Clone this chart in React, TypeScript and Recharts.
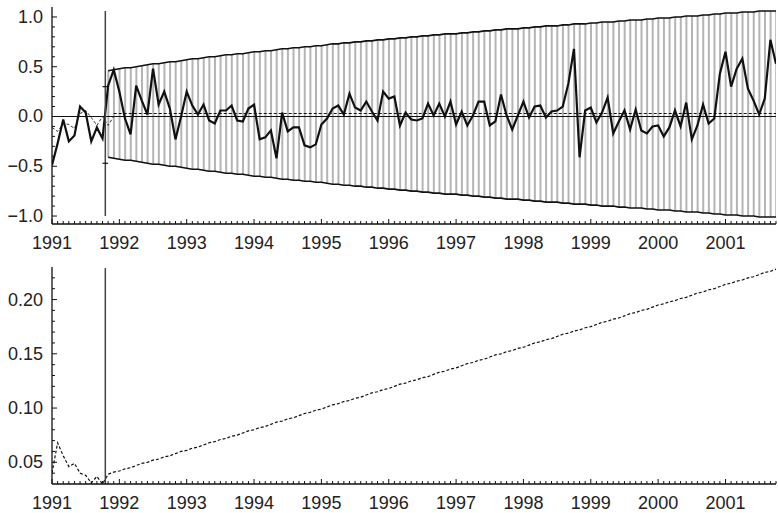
import React from 'react'
import { ComposedChart, Line, Bar, XAxis, YAxis, ReferenceLine } from 'recharts'

const START_YEAR = 1991
const FORECAST_START = 10 // first forecast month index (Nov 1991)
const FORECAST_MEAN = 0.03
const YEAR_TICKS = [1991, 1992, 1993, 1994, 1995, 1996, 1997, 1998, 1999, 2000, 2001]

// monthly observed series, Jan 1991 .. Oct 2001
const observed = [
  -0.49, -0.27, -0.03, -0.25, -0.19, 0.1, 0.04, -0.25, -0.11, -0.22,
  0.31, 0.47, 0.25, -0.02, -0.18, 0.31, 0.16, 0.02, 0.48, 0.12,
  0.25, 0.08, -0.23, 0.0, 0.25, 0.11, 0.02, 0.12, -0.04, -0.07,
  0.06, 0.06, 0.11, -0.04, -0.05, 0.08, 0.12, -0.23, -0.21, -0.14,
  -0.42, 0.04, -0.15, -0.11, -0.11, -0.29, -0.31, -0.28, -0.08, -0.02,
  0.08, 0.11, 0.02, 0.23, 0.09, 0.06, 0.15, 0.05, -0.04, 0.25,
  0.18, 0.2, -0.09, 0.04, -0.03, -0.04, -0.02, 0.13, 0.01, 0.13,
  0.0, 0.15, -0.08, 0.05, -0.09, 0.01, 0.15, 0.15, -0.09, -0.05,
  0.22, 0.01, -0.13, 0.01, 0.15, -0.01, 0.1, 0.11, -0.01, 0.05,
  0.06, 0.1, 0.33, 0.68, -0.41, 0.06, 0.09, -0.06, 0.04, 0.19,
  -0.17, -0.05, 0.06, -0.13, 0.07, -0.14, -0.17, -0.1, -0.09, -0.2,
  -0.11, 0.06, -0.1, 0.14, -0.23, -0.09, 0.12, -0.07, -0.02, 0.43,
  0.65, 0.3, 0.48, 0.58, 0.28, 0.16, 0.02, 0.18, 0.77, 0.53,
]

// in-sample fitted values (dashed)
const fitted = [-0.11, -0.15, -0.07, -0.08, -0.12, 0.03, 0.06, -0.01, -0.09, 0.0, -0.09, 0.0]

// forecast band, from Nov 1991
const bandUpper = [
  0.46, 0.47, 0.48, 0.49, 0.49, 0.5, 0.51, 0.52, 0.53, 0.53,
  0.54, 0.55, 0.55, 0.56, 0.57, 0.58, 0.58, 0.59, 0.6, 0.6,
  0.61, 0.62, 0.62, 0.63, 0.63, 0.64, 0.65, 0.65, 0.66, 0.66,
  0.67, 0.68, 0.68, 0.69, 0.69, 0.7, 0.7, 0.71, 0.71, 0.72,
  0.73, 0.73, 0.74, 0.74, 0.75, 0.75, 0.76, 0.76, 0.77, 0.77,
  0.78, 0.78, 0.79, 0.79, 0.8, 0.8, 0.81, 0.81, 0.82, 0.82,
  0.83, 0.83, 0.83, 0.84, 0.84, 0.85, 0.85, 0.86, 0.86, 0.87,
  0.87, 0.88, 0.88, 0.88, 0.89, 0.89, 0.9, 0.9, 0.91, 0.91,
  0.91, 0.92, 0.92, 0.93, 0.93, 0.93, 0.94, 0.94, 0.95, 0.95,
  0.95, 0.96, 0.96, 0.97, 0.97, 0.97, 0.98, 0.98, 0.99, 0.99,
  0.99, 1.0, 1.0, 1.01, 1.01, 1.01, 1.02, 1.02, 1.03, 1.03,
  1.04, 1.04, 1.04, 1.05, 1.05, 1.05, 1.06, 1.06, 1.06, 1.06,
]
const bandLower = [
  -0.41, -0.42, -0.43, -0.44, -0.44, -0.45, -0.46, -0.47, -0.48, -0.48,
  -0.49, -0.5, -0.5, -0.51, -0.52, -0.53, -0.53, -0.54, -0.55, -0.55,
  -0.56, -0.57, -0.57, -0.58, -0.58, -0.59, -0.6, -0.6, -0.61, -0.61,
  -0.62, -0.63, -0.63, -0.64, -0.64, -0.65, -0.65, -0.66, -0.66, -0.67,
  -0.68, -0.68, -0.69, -0.69, -0.7, -0.7, -0.71, -0.71, -0.72, -0.72,
  -0.73, -0.73, -0.74, -0.74, -0.75, -0.75, -0.76, -0.76, -0.77, -0.77,
  -0.78, -0.78, -0.78, -0.79, -0.79, -0.8, -0.8, -0.81, -0.81, -0.82,
  -0.82, -0.83, -0.83, -0.83, -0.84, -0.84, -0.85, -0.85, -0.86, -0.86,
  -0.86, -0.87, -0.87, -0.88, -0.88, -0.88, -0.89, -0.89, -0.9, -0.9,
  -0.9, -0.91, -0.91, -0.92, -0.92, -0.92, -0.93, -0.93, -0.94, -0.94,
  -0.94, -0.95, -0.95, -0.96, -0.96, -0.96, -0.97, -0.97, -0.98, -0.98,
  -0.99, -0.99, -0.99, -1.0, -1.0, -1.0, -1.01, -1.01, -1.01, -1.01,
]

// lower panel series (dashed)
const spread = [
  0.04, 0.068, 0.056, 0.046, 0.049, 0.04, 0.038, 0.031, 0.037, 0.03,
  0.039, 0.041, 0.042, 0.044, 0.045, 0.047, 0.049, 0.05, 0.052, 0.053,
  0.055, 0.056, 0.058, 0.06, 0.061, 0.063, 0.064, 0.066, 0.068, 0.069,
  0.071, 0.072, 0.074, 0.075, 0.077, 0.079, 0.08, 0.082, 0.083, 0.085,
  0.087, 0.088, 0.09, 0.091, 0.093, 0.095, 0.096, 0.098, 0.099, 0.101,
  0.103, 0.104, 0.106, 0.107, 0.109, 0.11, 0.112, 0.114, 0.115, 0.117,
  0.118, 0.12, 0.122, 0.123, 0.125, 0.126, 0.128, 0.129, 0.131, 0.133,
  0.134, 0.136, 0.137, 0.139, 0.141, 0.142, 0.144, 0.145, 0.147, 0.149,
  0.15, 0.152, 0.153, 0.155, 0.156, 0.158, 0.16, 0.161, 0.163, 0.164,
  0.166, 0.168, 0.169, 0.171, 0.172, 0.174, 0.175, 0.177, 0.179, 0.18,
  0.182, 0.183, 0.185, 0.187, 0.188, 0.19, 0.191, 0.193, 0.195, 0.196,
  0.198, 0.199, 0.201, 0.202, 0.204, 0.206, 0.207, 0.209, 0.21, 0.212,
  0.214, 0.215, 0.217, 0.218, 0.22, 0.221, 0.223, 0.225, 0.226, 0.228,
]

const TOP_Y_TICKS = [-1, -0.9, -0.8, -0.7, -0.6, -0.5, -0.4, -0.3, -0.2, -0.1, 0, 0.1, 0.2, 0.3, 0.4, 0.5, 0.6, 0.7, 0.8, 0.9, 1]
const TOP_Y_LABELS = [-1, -0.5, 0, 0.5, 1]
const BOTTOM_Y_TICKS = [0.04, 0.05, 0.06, 0.07, 0.08, 0.09, 0.1, 0.11, 0.12, 0.13, 0.14, 0.15, 0.16, 0.17, 0.18, 0.19, 0.2, 0.21, 0.22]
const BOTTOM_Y_LABELS = [0.05, 0.1, 0.15, 0.2]

const CAP_HIGH = 0.3
const CAP_LOW = -0.47

const FONT = '"Liberation Sans", Arial, Helvetica, sans-serif'
const INK = '#111'

const monthX = (i: number) => START_YEAR + i / 12
const ORIGIN = monthX(FORECAST_START - 0.5)
const END_X = monthX(observed.length - 1)
const monthTicks = observed.map((_, i) => monthX(i))

const topData = observed.map((v, i) => {
  const k = i - FORECAST_START
  return {
    x: monthX(i),
    observed: v,
    fitted: i < fitted.length ? fitted[i] : undefined,
    upper: k >= 0 ? bandUpper[k] : undefined,
    lower: k >= 0 ? bandLower[k] : undefined,
    band: k >= 0 ? [bandLower[k], bandUpper[k]] : undefined,
  }
})

const bottomData = spread.map((v, i) => ({ x: monthX(i), spread: v }))

const XTick = (props: any) => {
  const { x, y, payload } = props
  const v = payload.value
  const yr = Math.round(v)
  const major = Math.abs(v - yr) < 1e-6 && YEAR_TICKS.includes(yr)
  return (
    <g>
      <line x1={x} x2={x} y1={y} y2={y - (major ? 5 : 3)} stroke={INK} strokeWidth={1} />
      {major && (
        <text x={x} y={y + 19} textAnchor="middle" dominantBaseline="central"
          fontSize={18} fontFamily={FONT} fill="#222">
          {yr}
        </text>
      )}
    </g>
  )
}

const makeYTick = (labels: number[], digits: number) => (props: any) => {
  const { x, y, payload } = props
  const v = payload.value
  const major = labels.some((l) => Math.abs(l - v) < 1e-9)
  return (
    <g>
      <line x1={x} x2={x + (major ? 5 : 3)} y1={y} y2={y} stroke={INK} strokeWidth={1} />
      {major && (
        <text x={x - 9} y={y} textAnchor="end" dominantBaseline="central"
          fontSize={18} fontFamily={FONT} fill="#222">
          {v.toFixed(digits).replace('-', '\u2212')}
        </text>
      )}
    </g>
  )
}

const TopYTick = makeYTick(TOP_Y_LABELS, 1)
const BottomYTick = makeYTick(BOTTOM_Y_LABELS, 2)

const axisLine = { stroke: INK, strokeWidth: 1.3 }

export default function App() {
  return (
    <div style={{ position: 'absolute', left: 0, top: 0, width: 778, height: 513, background: '#fff' }}>
      <div style={{ position: 'absolute', left: 0, top: 0 }}>
        <ComposedChart width={778} height={260} data={topData} margin={{ top: 7, right: 2, bottom: 0, left: 0 }}>
          <XAxis dataKey="x" type="number" domain={[START_YEAR, END_X]} ticks={monthTicks} interval={0}
            allowDataOverflow height={36} tickSize={0} tickMargin={0} tickLine={false}
            axisLine={axisLine} tick={XTick} />
          <YAxis type="number" domain={[-1.08, 1.1]} ticks={TOP_Y_TICKS} interval={0} allowDataOverflow
            width={52} tickSize={0} tickMargin={0} tickLine={false} axisLine={axisLine} tick={TopYTick} />
          <Bar dataKey="band" barSize={2} fill="#b4b4b4" isAnimationActive={false} />
          <ReferenceLine y={0} stroke={INK} strokeWidth={1.2} />
          <ReferenceLine
            segment={[{ x: monthX(11), y: FORECAST_MEAN }, { x: END_X, y: FORECAST_MEAN }]}
            stroke={INK} strokeWidth={1} strokeDasharray="3 2" />
          <Line dataKey="upper" stroke={INK} strokeWidth={1.6} dot={false} isAnimationActive={false} />
          <Line dataKey="lower" stroke={INK} strokeWidth={1.6} dot={false} isAnimationActive={false} />
          <Line dataKey="fitted" stroke="#333" strokeWidth={1} strokeDasharray="3 2" dot={false}
            isAnimationActive={false} />
          <Line dataKey="observed" stroke={INK} strokeWidth={2.2} dot={false} isAnimationActive={false} />
          <ReferenceLine segment={[{ x: ORIGIN, y: 1.06 }, { x: ORIGIN, y: -1.0 }]} stroke="#444" strokeWidth={1.5} />
          <ReferenceLine segment={[{ x: monthX(9), y: CAP_HIGH }, { x: monthX(10), y: CAP_HIGH }]} stroke={INK} strokeWidth={1.2} />
          <ReferenceLine segment={[{ x: monthX(9), y: CAP_LOW }, { x: monthX(10), y: CAP_LOW }]} stroke={INK} strokeWidth={1.2} />
        </ComposedChart>
      </div>
      <div style={{ position: 'absolute', left: 0, top: 260 }}>
        <ComposedChart width={778} height={253} data={bottomData} margin={{ top: 7, right: 2, bottom: 0, left: 0 }}>
          <XAxis dataKey="x" type="number" domain={[START_YEAR, END_X]} ticks={monthTicks} interval={0}
            allowDataOverflow height={29} tickSize={0} tickMargin={0} tickLine={false}
            axisLine={axisLine} tick={XTick} />
          <YAxis type="number" domain={[0.03, 0.23]} ticks={BOTTOM_Y_TICKS} interval={0} allowDataOverflow
            width={52} tickSize={0} tickMargin={0} tickLine={false} axisLine={axisLine} tick={BottomYTick} />
          <Line dataKey="spread" stroke={INK} strokeWidth={1.2} strokeDasharray="3 2" dot={false}
            isAnimationActive={false} />
          <ReferenceLine segment={[{ x: ORIGIN, y: 0.229 }, { x: ORIGIN, y: 0.03 }]} stroke="#444" strokeWidth={1.5} />
        </ComposedChart>
      </div>
    </div>
  )
}
